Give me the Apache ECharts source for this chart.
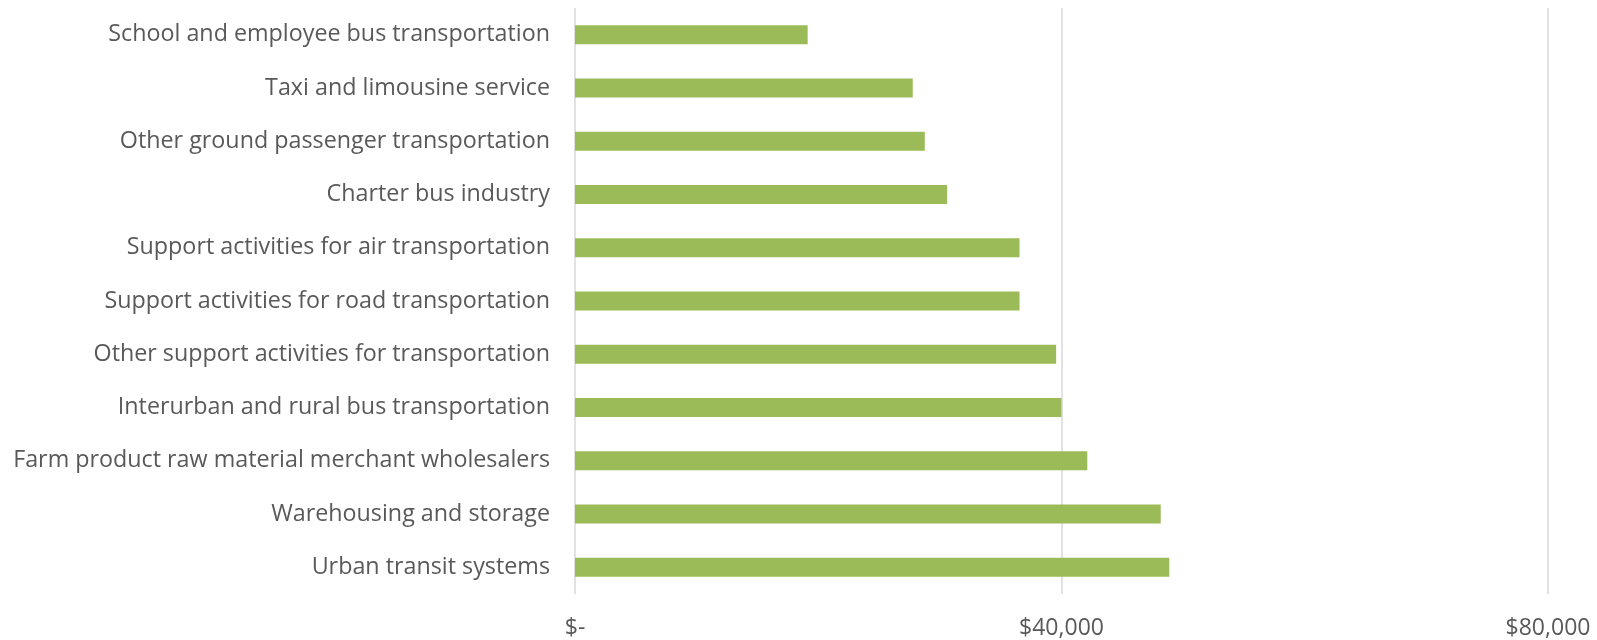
<!DOCTYPE html>
<html>
<head>
<meta charset="utf-8">
<script src="https://cdn.jsdelivr.net/npm/echarts@6/dist/echarts.min.js"></script>
<style>
  html, body { margin: 0; padding: 0; background: #fff; }
  #main { width: 1597px; height: 640px; }
</style>
</head>
<body>
<div id="main"></div>
<script>
  // categories, top to bottom
  var industries = [
    "School and employee bus transportation",
    "Taxi and limousine service",
    "Other ground passenger transportation",
    "Charter bus industry",
    "Support activities for air transportation",
    "Support activities for road transportation",
    "Other support activities for transportation",
    "Interurban and rural bus transportation",
    "Farm product raw material merchant wholesalers",
    "Warehousing and storage",
    "Urban transit systems"
  ];
  // average wage ($)
  var wages = [19130, 27770, 28760, 30600, 36550, 36550, 39560, 40000, 42120, 48160, 48860];

  var chart = echarts.init(document.getElementById("main"));
  var font = "'Open Sans', 'Noto Sans', sans-serif";

  var option = {
    animation: false,
    grid: { left: 575, right: 49, top: 8, bottom: 46 },
    xAxis: {
      type: "value",
      min: 0,
      max: 80000,
      interval: 40000,
      axisLine: { show: false },
      axisTick: { show: false },
      splitLine: { show: true, lineStyle: { color: "#d9d9d9", width: 1.5 } },
      axisLabel: {
        color: "#595959",
        fontFamily: font,
        fontSize: 23,
        margin: 23,
        formatter: function (v) {
          if (v === 0) return "$-";
          return "$" + v.toLocaleString("en-US");
        }
      }
    },
    yAxis: {
      type: "category",
      data: industries,
      inverse: true,
      axisLine: { show: false },
      axisTick: { show: false },
      axisLabel: {
        color: "#595959",
        fontFamily: font,
        fontSize: 23.3,
        margin: 25,
        padding: [5, 0, 0, 0]
      }
    },
    series: [
      {
        type: "bar",
        data: wages,
        barWidth: 19,
        itemStyle: { color: "#9bbb59" }
      }
    ]
  };
  chart.setOption(option);
</script>
</body>
</html>
